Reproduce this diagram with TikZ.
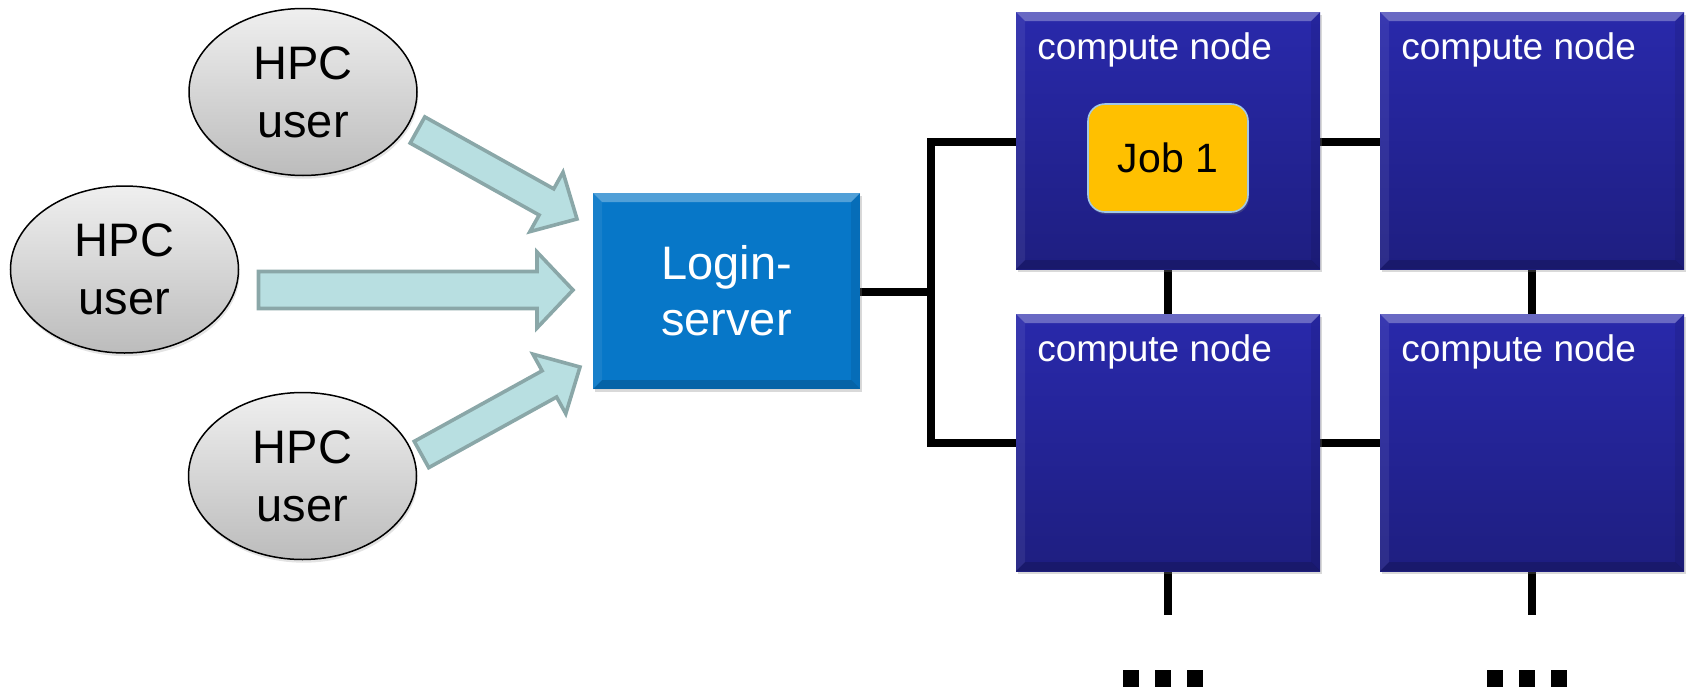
\documentclass[tikz,border=0pt]{standalone}
\usepackage{fontspec}
\setmainfont{Liberation Sans}
\usetikzlibrary{calc,shadows,shapes.geometric}
\pgfdeclarelayer{wires}
\pgfsetlayers{wires,main}
\definecolor{ugtop}{HTML}{EFEFEF}
\definecolor{ugbot}{HTML}{BCBCBC}
\definecolor{arrfill}{HTML}{B8DFE1}
\definecolor{arrline}{HTML}{8AA7A8}
\definecolor{logfill}{HTML}{0777C8}
\definecolor{cntop}{HTML}{2929AB}
\definecolor{cnbot}{HTML}{1E1E80}
\definecolor{jobfill}{HTML}{FFC000}
\definecolor{jobline}{HTML}{A2C8E6}
\newcommand{\mybevel}[2]{% node name, bevel width (px)
  \fill[white,opacity=0.30] (#1.north west) -- (#1.north east) -- ($(#1.north east)+(-#2,#2)$) -- ($(#1.north west)+(#2,#2)$) -- cycle;
  \fill[black,opacity=0.16] (#1.south west) -- (#1.south east) -- ($(#1.south east)+(-#2,-#2)$) -- ($(#1.south west)+(#2,-#2)$) -- cycle;
  \fill[white,opacity=0.07] (#1.north west) -- (#1.south west) -- ($(#1.south west)+(#2,-#2)$) -- ($(#1.north west)+(#2,#2)$) -- cycle;
  \fill[black,opacity=0.08] (#1.north east) -- (#1.south east) -- ($(#1.south east)+(-#2,-#2)$) -- ($(#1.north east)+(-#2,#2)$) -- cycle;
}
\newcommand{\blockarrow}[5]{% tail, tip, half shaft, half head, head length (all pt)
  \coordinate (hb) at ($(#2)!#5!(#1)$);
  \draw[barrow] ($(#1)!#3!90:(#2)$) -- ($(hb)!#3!-90:(#1)$) -- ($(hb)!#4!-90:(#1)$) -- (#2)
    -- ($(hb)!#4!90:(#1)$) -- ($(hb)!#3!90:(#1)$) -- ($(#1)!#3!-90:(#2)$) -- cycle;
}
\begin{document}
\begin{tikzpicture}[x=0.5pt,y=-0.5pt,
  user/.style={ellipse, draw=black, line width=0.75pt, top color=ugtop, bottom color=ugbot,
    minimum width=114pt, minimum height=83.5pt, inner sep=0pt, outer sep=0pt, align=center,
    font=\fontsize{23.5}{29}\selectfont,
    drop shadow={shadow xshift=0.6pt, shadow yshift=-1.6pt, opacity=0.22}},
  loginbox/.style={rectangle, fill=logfill, minimum width=133.5pt, minimum height=98pt,
    inner sep=0pt, outer sep=0pt, align=center, text=white,
    font=\fontsize{23.5}{28}\selectfont,
    drop shadow={shadow xshift=0.8pt, shadow yshift=-1.6pt, opacity=0.3}},
  cnode/.style={rectangle, top color=cntop, bottom color=cnbot, minimum width=152pt,
    minimum height=128.5pt, inner sep=0pt, outer sep=0pt,
    drop shadow={shadow xshift=0.8pt, shadow yshift=-1.6pt, opacity=0.3}},
  cnlabel/.style={anchor=base west, inner sep=0pt, text=white, font=\fontsize{18.5}{22}\selectfont},
  jobbox/.style={rectangle, rounded corners=8.5pt, fill=jobfill, draw=jobline, line width=0.8pt,
    minimum width=80pt, minimum height=54pt, inner sep=0pt, font=\fontsize{20.5}{24}\selectfont,
    drop shadow={shadow xshift=0.6pt, shadow yshift=-1.2pt, opacity=0.3}},
  wire/.style={line width=4pt, black},
  barrow/.style={fill=arrfill, draw=arrline, line width=1.8pt, line join=miter},
  dotsq/.style={fill=black}
]
\useasboundingbox (0,0) rectangle (1688,691);

% users
\node[user] (u1) at (303,92) {HPC\\user};
\node[user] (u2) at (124.5,269.5) {HPC\\user};
\node[user] (u3) at (302.5,476) {HPC\\user};

% login server
\node[loginbox] (login) at (726.5,291) {Login-\\server};
\mybevel{login}{9}

% compute nodes
\node[cnode] (c11) at (1168,140.5) {};
\node[cnode] (c12) at (1532,140.5) {};
\node[cnode] (c21) at (1168,442.5) {};
\node[cnode] (c22) at (1532,442.5) {};
\mybevel{c11}{9}
\mybevel{c12}{9}
\mybevel{c21}{9}
\mybevel{c22}{9}
\node[cnlabel] (l11) at ($(c11.north west)+(21,47)$) {compute node};
\node[cnlabel] (l12) at ($(c12.north west)+(21,47)$) {compute node};
\node[cnlabel] (l21) at ($(c21.north west)+(21,47)$) {compute node};
\node[cnlabel] (l22) at ($(c22.north west)+(21,47)$) {compute node};

% job
\node[jobbox] (job) at (1168,158) {Job 1};

% network wires (on a layer behind the boxes)
\coordinate (bt) at (931,141.5);
\coordinate (bb) at (931,443);
\coordinate (s1) at ($(c21.south)+(0,44)$);
\coordinate (s2) at ($(c22.south)+(0,44)$);
\begin{pgfonlayer}{wires}
\draw[wire] (c11.west |- bt) -- (bt) -- (bb) -- (c21.west |- bb);
\draw[wire] ([yshift=-0.25pt]login.east) -- ([yshift=-0.25pt]login.east -| bt);
\draw[wire] (c11.east |- bt) -- (c12.west |- bt);
\draw[wire] (c21.east |- bb) -- (c22.west |- bb);
\draw[wire] (c11.south) -- (c21.north);
\draw[wire] (c12.south) -- (c22.north);
\draw[wire] (c21.south) -- (s1);
\draw[wire] (c22.south) -- (s2);
\end{pgfonlayer}

% ellipsis marks
\foreach \x in {1123,1155,1187} {\fill[dotsq] (\x,670) rectangle ++(16,17);}
\foreach \x in {1487,1519,1551} {\fill[dotsq] (\x,670) rectangle ++(16,17);}

% block arrows from users to login server
\coordinate (a1) at (417.5,130);
\coordinate (b1) at ($(login.west)+(-16,-72)$);
\coordinate (a2) at ($(u2.east)+(20,20.5)$);
\coordinate (b2) at ($(login.west)+(-20,-1)$);
\coordinate (a3) at (421.5,454.5);
\coordinate (b3) at ($(login.west)+(-13,76)$);
\blockarrow{a1}{b1}{7.5pt}{17pt}{17.5pt}
\blockarrow{a2}{b2}{9.25pt}{19pt}{18pt}
\blockarrow{a3}{b3}{7.5pt}{17pt}{17.5pt}
\end{tikzpicture}
\end{document}
